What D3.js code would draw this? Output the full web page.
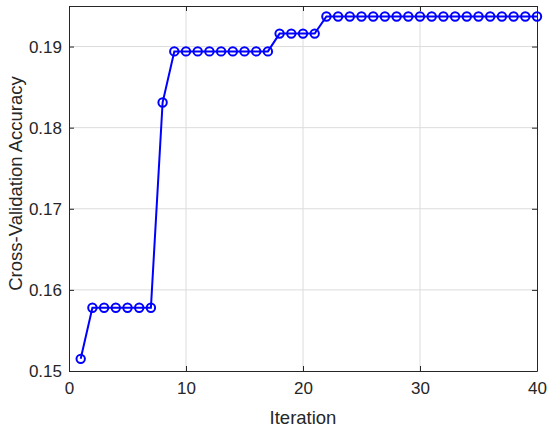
<!DOCTYPE html>
<html>
<head>
<meta charset="utf-8">
<script src="https://cdn.jsdelivr.net/npm/d3@7"></script>
<style>
  body { margin: 0; background: #fff; }
  svg { font-family: "Liberation Sans", Arial, sans-serif; }
  .grid line { stroke: #dcdcdc; stroke-width: 1; }
  .axis path, .axis line { stroke: #262626; }
  .axis text { fill: #262626; font-size: 17px; }
</style>
</head>
<body>
<div class="chart"></div>
<script>
var width = 550;
var height = 430;

// data
var iterations = d3.range(1, 41);
var accuracy = [
  0.1515,
  0.1578, 0.1578, 0.1578, 0.1578, 0.1578, 0.1578,
  0.1831,
  0.1894, 0.1894, 0.1894, 0.1894, 0.1894, 0.1894, 0.1894, 0.1894, 0.1894,
  0.1916, 0.1916, 0.1916, 0.1916,
  0.1937, 0.1937, 0.1937, 0.1937, 0.1937, 0.1937, 0.1937, 0.1937, 0.1937, 0.1937,
  0.1937, 0.1937, 0.1937, 0.1937, 0.1937, 0.1937, 0.1937, 0.1937, 0.1937
];
var xTicks = [0, 10, 20, 30, 40];
var yTicks = [0.15, 0.16, 0.17, 0.18, 0.19];

var margin = { top: 6, right: 13, bottom: 59, left: 69 };
var w = width - margin.left - margin.right;
var h = height - margin.top - margin.bottom;

var svg = d3.select(".chart")
  .append("svg")
  .attr("width", width)
  .attr("height", height)
  .append("g")
  .attr("transform", `translate(${margin.left},${margin.top})`);

var x = d3.scaleLinear().domain([0, 40]).range([0, w]);
var y = d3.scaleLinear().domain([0.15, 0.195]).range([h, 0]);

// grid
svg.append("g").attr("class", "grid")
  .selectAll("line.gx").data(xTicks.slice(1, -1)).enter().append("line")
  .attr("x1", d => x(d)).attr("x2", d => x(d)).attr("y1", 0).attr("y2", h);
svg.append("g").attr("class", "grid")
  .selectAll("line.gy").data(yTicks.slice(1)).enter().append("line")
  .attr("x1", 0).attr("x2", w).attr("y1", d => y(d)).attr("y2", d => y(d));

// axes, ticks pointing inward like matlab
var xAxis = svg.append("g").attr("class", "axis")
  .attr("transform", `translate(0,${h})`)
  .call(d3.axisBottom(x).tickValues(xTicks).tickSizeInner(-5).tickSizeOuter(0).tickPadding(23));
var yAxis = svg.append("g").attr("class", "axis")
  .call(d3.axisLeft(y).tickValues(yTicks).tickFormat(d3.format(".2f")).tickSizeInner(-5).tickSizeOuter(0).tickPadding(7));
xAxis.selectAll("text").attr("dy", "0");

// box: top and right
svg.append("g").attr("class", "axis")
  .call(d3.axisTop(x).tickValues(xTicks).tickSizeInner(-5).tickSizeOuter(0).tickFormat(""));
svg.append("g").attr("class", "axis")
  .attr("transform", `translate(${w},0)`)
  .call(d3.axisRight(y).tickValues(yTicks).tickSizeInner(-5).tickSizeOuter(0).tickFormat(""));

// labels
svg.append("text")
  .attr("x", w / 2).attr("y", h + 53)
  .attr("text-anchor", "middle")
  .attr("font-size", "18.5px").attr("fill", "#262626")
  .text("Iteration");
svg.append("text")
  .attr("transform", `translate(${-47},${h / 2 - 5}) rotate(-90)`)
  .attr("text-anchor", "middle")
  .attr("font-size", "18.5px").attr("fill", "#262626")
  .text("Cross-Validation Accuracy");

var data = iterations.map((d, i) => ({ it: d, acc: accuracy[i] }));

var line = d3.line().x(d => x(d.it)).y(d => y(d.acc));
svg.append("path")
  .datum(data)
  .attr("d", line)
  .attr("fill", "none")
  .attr("stroke", "#0000ff")
  .attr("stroke-width", 2);

svg.selectAll("circle").data(data).enter().append("circle")
  .attr("cx", d => x(d.it))
  .attr("cy", d => y(d.acc))
  .attr("r", 4.2)
  .attr("fill", "none")
  .attr("stroke", "#0000ff")
  .attr("stroke-width", 2);
</script>
</body>
</html>
